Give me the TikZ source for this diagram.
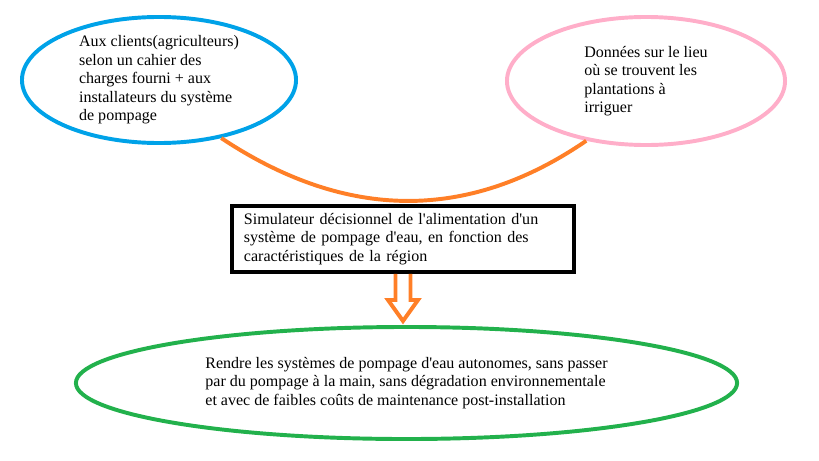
\documentclass[tikz,border=0pt]{standalone}
\usepackage{fontspec}
\setmainfont{Liberation Serif}
\usetikzlibrary{positioning, shapes.geometric}
\tikzstyle{bubble}=[draw, ellipse, line width=2.8pt, inner sep=0pt, align=left, font=\fontsize{11.4}{13.1}\selectfont]
\tikzstyle{simbox}=[draw, line width=2.8pt, inner xsep=0.3cm, inner ysep=0pt, text width=7.95cm, minimum height=1.65cm, align=left, font=\fontsize{11.4}{13.1}\selectfont]
\definecolor{paint_blue}{RGB}{0, 162, 232}
\definecolor{paint_pink}{RGB}{255, 174, 201}
\definecolor{paint_orange}{RGB}{255, 127, 39}
\definecolor{paint_green}{RGB}{34, 177, 76}

\begin{document}
\begin{tikzpicture}[x=0.025cm, y=-0.025cm]
            \useasboundingbox (0, 0) rectangle (819, 460);
            \node[bubble, color=paint_blue, text=black, minimum width=6.85cm, minimum height=3.15cm] (clients) at (159, 80) {Aux clients(agriculteurs)\\selon un cahier des\\charges fourni + aux\\installateurs du système\\de pompage};
            \node[bubble, color=paint_pink, text=black, minimum width=6.95cm, minimum height=3.2cm] (lieu) at (646, 81) {Données sur le lieu\\où se trouvent les\\plantations à\\irriguer};
            \node[simbox] (sim) at (403, 239) {Simulateur décisionnel de l\textquotesingle alimentation d\textquotesingle un\\système de pompage d\textquotesingle eau, en fonction des\\caractéristiques de la région};
            \node[bubble, color=paint_green, text=black, minimum width=16.525cm, minimum height=2.8cm] (goal) at (406.5, 383) {Rendre les systèmes de pompage d\textquotesingle eau autonomes, sans passer\\par du pompage à la main, sans dégradation environnementale\\et avec de faibles coûts de maintenance post-installation};
            \draw[color=paint_orange, line width=2.8pt] (clients.-43) .. controls +(125, 83) and +(-118, 81) .. (lieu.-135);
            \draw[color=paint_orange, line width=2.8pt] (sim.south) ++(-7.5, 0) -- ++(0, 26) -- ++(-7.5, 0) -- ++(15, 21) -- ++(15, -21) -- ++(-7.5, 0) -- ++(0, -26);
        \end{tikzpicture}
\end{document}
